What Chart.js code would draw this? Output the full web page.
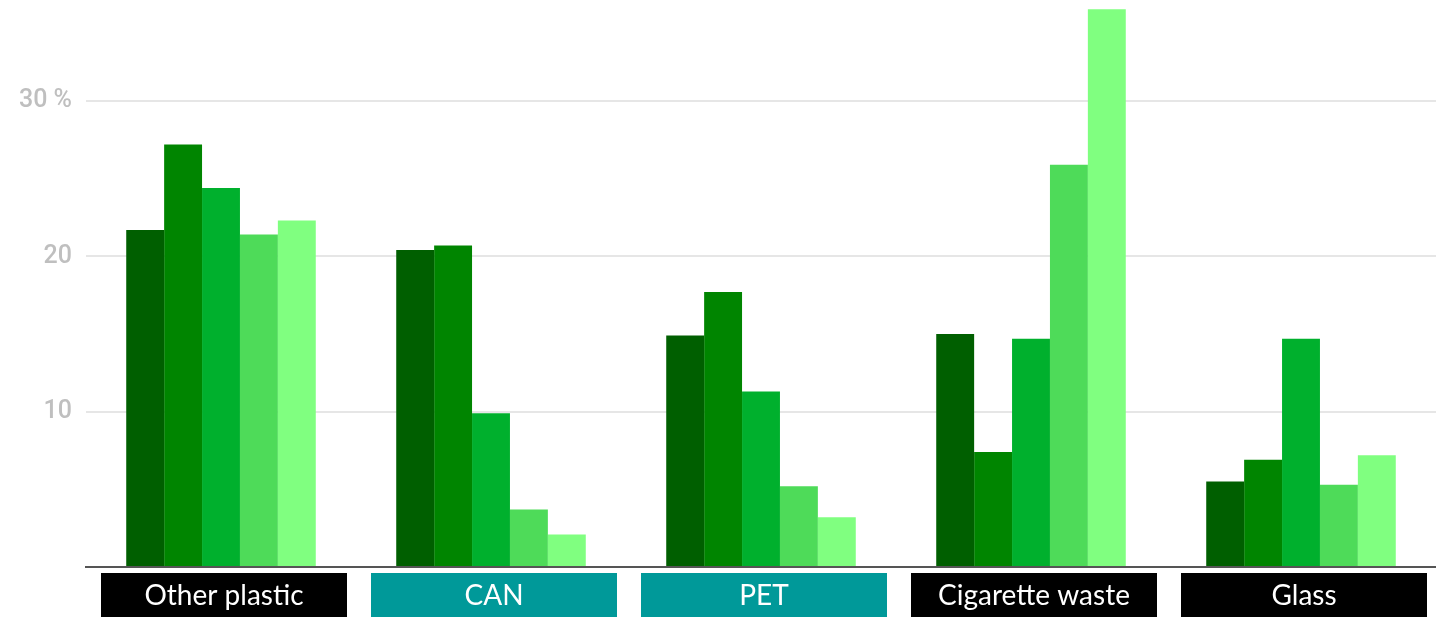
<!DOCTYPE html>
<html>
<head>
<meta charset="utf-8">
<script src="https://cdn.jsdelivr.net/npm/chart.js@4/dist/chart.umd.min.js"></script>
<style>
  html, body { margin: 0; padding: 0; background: #fff; }
  #wrap { width: 1436px; height: 617px; position: relative; }
</style>
</head>
<body>
<div id="wrap"><canvas id="chart"></canvas></div>
<script>
// categories and the colour of the box behind each label
const categories = ['Other plastic', 'CAN', 'PET', 'Cigarette waste', 'Glass'];
const labelBoxColors = ['#000000', '#009999', '#009999', '#000000', '#000000'];

// five series, darkest to lightest green (values in %)
const series1 = [21.7, 20.4, 14.9, 15.0, 5.5];
const series2 = [27.2, 20.7, 17.7, 7.4, 6.9];
const series3 = [24.4, 9.9, 11.3, 14.7, 14.7];
const series4 = [21.4, 3.7, 5.2, 25.9, 5.3];
const series5 = [22.3, 2.1, 3.2, 35.9, 7.2];
const seriesColors = ['#005f00', '#008500', '#00b02d', '#4edb59', '#80ff80'];

const yTicks = [0, 10, 20, 30];

/**
 * 类别标签：黑色 / 青色底框 + 白字
 */
const labelBoxPlugin = {
  id: 'labelBoxes',
  afterDraw(chart) {
    const ctx = chart.ctx;
    const x = chart.scales.x;
    const top = chart.chartArea.bottom + 6;
    const h = 44;
    const w = 246;
    ctx.save();
    categories.forEach((c, i) => {
      const cx = x.getPixelForValue(i) + 3;
      ctx.fillStyle = labelBoxColors[i];
      ctx.fillRect(cx - w / 2, top, w, h);
      ctx.fillStyle = '#ffffff';
      ctx.font = '28px Lato, "Open Sans", sans-serif';
      ctx.textAlign = 'center';
      ctx.textBaseline = 'middle';
      ctx.fillText(c, cx, top + h / 2 + 1);
    });
    ctx.restore();
  }
};

const datasets = [series1, series2, series3, series4, series5].map((d, i) => ({
  label: 'Series ' + (i + 1),
  data: d,
  backgroundColor: seriesColors[i],
  borderWidth: 0,
  categoryPercentage: 0.702,
  barPercentage: 1.0
}));

new Chart(document.getElementById('chart').getContext('2d'), {
  type: 'bar',
  data: { labels: categories, datasets },
  options: {
    responsive: true,
    maintainAspectRatio: false,
    animation: false,
    layout: { padding: { top: 0, left: 0, bottom: 0, right: -4 } },
    scales: {
      x: {
        grid: { display: false },
        border: { display: true, color: '#555555', width: 2 },
        ticks: { display: false },
        afterFit: s => { s.height = 50; }
      },
      y: {
        min: 0,
        max: 36.5,
        afterBuildTicks: s => { s.ticks = yTicks.map(v => ({ value: v })); },
        afterFit: s => { s.width = 86; s.paddingTop = 0; s.paddingBottom = 0; },
        border: { display: false },
        grid: {
          color: c => (c.tick && c.tick.value === 0 ? 'rgba(0,0,0,0)' : '#e6e6e6'),
          lineWidth: 2,
          drawTicks: false
        },
        ticks: {
          padding: 14,
          color: '#bfbfbf',
          font: { family: 'Roboto', size: 25, weight: '500' },
          callback: v => (v === 0 ? '' : v === 30 ? '30 %' : String(v))
        }
      }
    },
    plugins: {
      legend: { display: false },
      tooltip: { enabled: false }
    }
  },
  plugins: [labelBoxPlugin]
});
</script>
</body>
</html>
